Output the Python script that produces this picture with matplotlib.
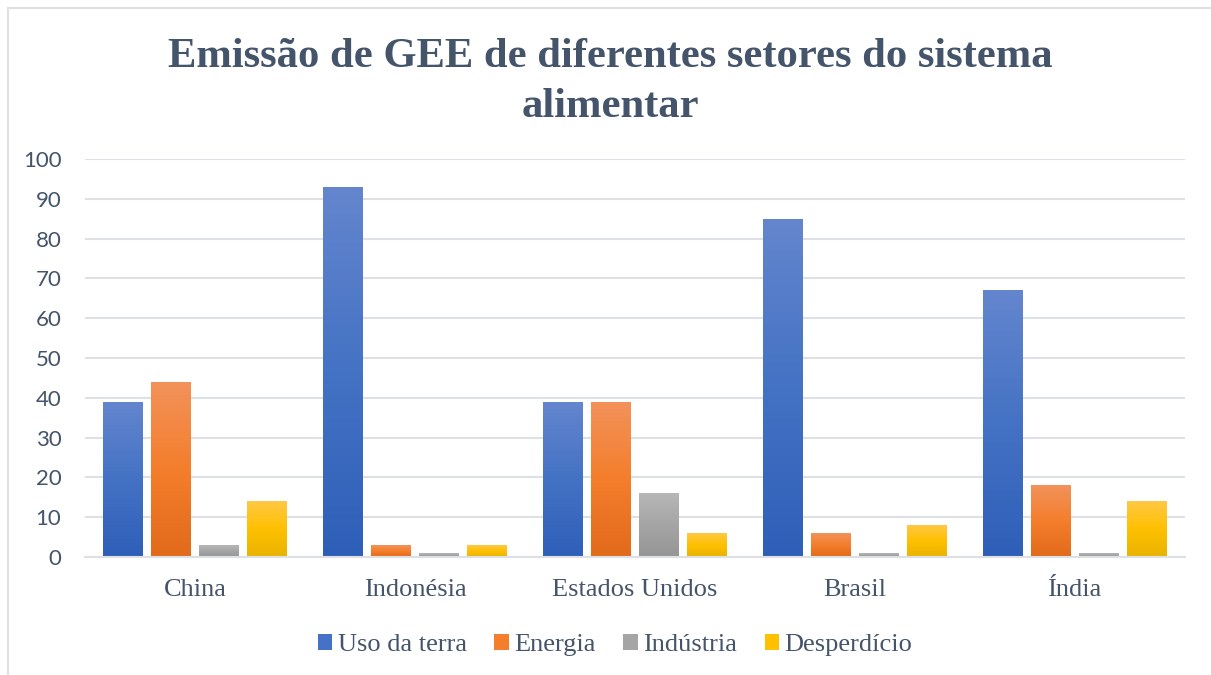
import numpy as np
import matplotlib
matplotlib.use("Agg")
import matplotlib.pyplot as plt
from matplotlib.colors import LinearSegmentedColormap
from matplotlib.lines import Line2D
from matplotlib.patches import Patch

categories = ["China", "Indonésia", "Estados Unidos", "Brasil", "Índia"]
series_names = ["Uso da terra", "Energia", "Indústria", "Desperdício"]
uso_da_terra = [39, 93, 39, 85, 67]
energia = [44, 3, 39, 6, 18]
industria = [3, 1, 16, 1, 1]
desperdicio = [14, 3, 6, 8, 14]
yticks = [0, 10, 20, 30, 40, 50, 60, 70, 80, 90, 100]
title = "Emissão de GEE de diferentes setores do sistema\nalimentar"

series = [uso_da_terra, energia, industria, desperdicio]
# gradient stops: top, middle, bottom
grads = [
    ["#6486CE", "#4472C4", "#2E5FB8"],
    ["#F2925B", "#F47E2C", "#E26A1B"],
    ["#B7B7B7", "#A5A5A5", "#959595"],
    ["#FFC845", "#FFC000", "#E8B300"],
]
mid_colors = [g[1] for g in grads]

TXT = "#44546A"
GRID = "#DDE1E6"

W, H = 1211, 675
fig = plt.figure(figsize=(W / 100, H / 100), dpi=100)
fig.patch.set_facecolor("white")

ax = fig.add_axes([85 / W, (H - 557) / H, 1100 / W, (557 - 159) / H])
ax.set_xlim(-0.5, len(categories) - 0.5)
ax.set_ylim(0, 100)

x = np.arange(len(categories))
bw = 40 / 220
step = 48 / 220
offsets = (np.arange(4) - 1.5) * step

for i, vals in enumerate(series):
    bars = ax.bar(x + offsets[i], vals, width=bw, color=mid_colors[i], zorder=3, linewidth=0)
    cmap = LinearSegmentedColormap.from_list(f"g{i}", grads[i][::-1])
    grad = np.linspace(0, 1, 256).reshape(-1, 1)
    for b in bars:
        x0, y0 = b.get_x(), b.get_y()
        w, h = b.get_width(), b.get_height()
        im = ax.imshow(grad, cmap=cmap, aspect="auto", origin="lower",
                       extent=[x0, x0 + w, y0, y0 + h], zorder=4, interpolation="bicubic")
        im.set_clip_path(b)

ax.set_xlim(-0.5, len(categories) - 0.5)
ax.set_ylim(0, 100)

ax.set_yticks(yticks)
ax.set_yticklabels([str(v) for v in yticks], fontfamily="Lato", fontsize=16, color=TXT)
ax.set_xticks(x)
ax.set_xticklabels(categories, fontfamily="Liberation Serif", fontsize=19, color=TXT)
ax.tick_params(axis="y", length=0, pad=17)
ax.tick_params(axis="x", length=0, pad=16)
ax.grid(axis="y", color=GRID, linewidth=1.5, zorder=0)
for s in ["top", "right", "left"]:
    ax.spines[s].set_visible(False)
ax.spines["bottom"].set_color(GRID)
ax.spines["bottom"].set_linewidth(1.5)
ax.spines["bottom"].set_zorder(5)

fig.text(610 / W, 1 - 82 / H, title, ha="center", va="center",
         fontfamily="Liberation Serif", fontweight="bold", fontsize=30.7, color=TXT,
         linespacing=1.42)

handles = [Patch(facecolor=c, edgecolor="none") for c in mid_colors]
leg = fig.legend(handles, series_names, loc="center", bbox_to_anchor=(615 / W, 1 - 645 / H),
                 ncol=4, frameon=False, prop={"family": "Liberation Serif", "size": 19},
                 handlelength=0.55, handleheight=0.55, handletextpad=0.2, columnspacing=1.05)
for t in leg.get_texts():
    t.set_color(TXT)

# chart border
fig.add_artist(Line2D([8 / W, 8 / W], [0, 1 - 8 / H], color=GRID, linewidth=1.5))
fig.add_artist(Line2D([8 / W, 1], [1 - 8 / H, 1 - 8 / H], color=GRID, linewidth=1.5))

fig.savefig("out.png", dpi=100, facecolor="white")
